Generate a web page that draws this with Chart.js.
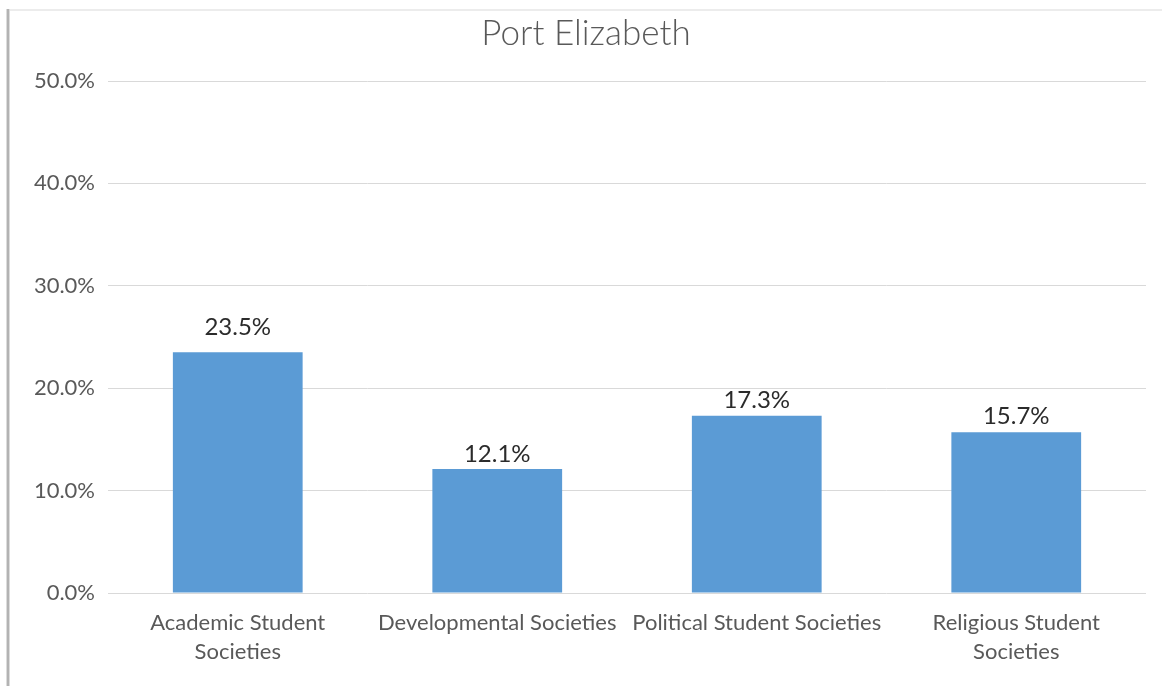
<!DOCTYPE html>
<html>
<head>
<meta charset="utf-8">
<title>Port Elizabeth</title>
<script src="https://cdn.jsdelivr.net/npm/chart.js@4/dist/chart.umd.min.js"></script>
<style>
  html, body { margin: 0; padding: 0; background: #ffffff; }
  canvas { display: block; }
</style>
</head>
<body>
<canvas id="chart" width="1162" height="686"></canvas>
<script>
// Share of students in each type of society, Port Elizabeth
const categories = [
  ['Academic Student', 'Societies'],
  'Developmental Societies',
  'Political Student Societies',
  ['Religious Student', 'Societies']
];
const shares = [23.5, 12.1, 17.3, 15.7];
const yTicks = [0, 10, 20, 30, 40, 50];

const FONT = 'Lato, "Open Sans", "DejaVu Sans", sans-serif';

// Frame: white page with a grey rule down the left and a faint rule along the top
const framePlugin = {
  id: 'frame',
  beforeDraw(chart) {
    const ctx = chart.ctx;
    ctx.save();
    ctx.fillStyle = '#ffffff';
    ctx.fillRect(0, 0, chart.width, chart.height);
    ctx.fillStyle = '#ececec';
    ctx.fillRect(9, 9, chart.width - 9, 2);
    ctx.fillStyle = '#dcdcdc';
    ctx.fillRect(6, 9, 4, chart.height - 9);
    ctx.fillStyle = '#b3b3b3';
    ctx.fillRect(7, 9, 2, chart.height - 9);
    ctx.restore();
  }
};

// Value labels above each bar
const valueLabels = {
  id: 'valueLabels',
  afterDatasetsDraw(chart, args, opts) {
    const ctx = chart.ctx;
    const meta = chart.getDatasetMeta(0);
    const data = chart.data.datasets[0].data;
    ctx.save();
    ctx.font = opts.font;
    ctx.fillStyle = opts.color;
    ctx.textAlign = 'center';
    ctx.textBaseline = 'alphabetic';
    meta.data.forEach((bar, i) => {
      const gap = (opts.gaps && opts.gaps[i] != null) ? opts.gaps[i] : opts.gap;
      ctx.fillText(data[i].toFixed(1) + '%', bar.x, bar.y - gap);
    });
    ctx.restore();
  }
};

new Chart(document.getElementById('chart'), {
  type: 'bar',
  data: {
    labels: categories,
    datasets: [{
      data: shares,
      backgroundColor: '#5b9bd5',
      borderWidth: 0,
      barPercentage: 0.5,
      categoryPercentage: 1.0
    }]
  },
  options: {
    responsive: false,
    animation: false,
    devicePixelRatio: 1,
    layout: { padding: { top: 10, right: 16, bottom: 0, left: 26 } },
    plugins: {
      legend: { display: false },
      tooltip: { enabled: false },
      title: {
        display: true,
        text: 'Port Elizabeth',
        color: '#595959',
        font: { family: FONT, size: 35, weight: '300', lineHeight: 1.2 },
        padding: { top: 3, bottom: 26 }
      },
      valueLabels: {
        font: '24px ' + FONT,
        color: '#2b2b2b',
        gap: 7,
        gaps: [17, 7, 8, 8]
      }
    },
    scales: {
      x: {
        grid: { display: false, drawTicks: false },
        border: { display: false },
        ticks: {
          color: '#595959',
          font: { family: FONT, size: 22, lineHeight: 29 / 22 },
          padding: 15,
          maxRotation: 0,
          autoSkip: false
        },
        afterFit(scale) { scale.height = 93; }
      },
      y: {
        min: 0,
        max: 50,
        afterBuildTicks(scale) { scale.ticks = yTicks.map(v => ({ value: v })); },
        grid: { color: '#d9d9d9', lineWidth: 1, drawTicks: false },
        border: { display: false },
        ticks: {
          color: '#595959',
          font: { family: FONT, size: 22 },
          padding: 13,
          callback: v => Number(v).toFixed(1) + '%'
        },
        afterFit(scale) { scale.width = 82; }
      }
    }
  },
  plugins: [framePlugin, valueLabels]
});
</script>
</body>
</html>
